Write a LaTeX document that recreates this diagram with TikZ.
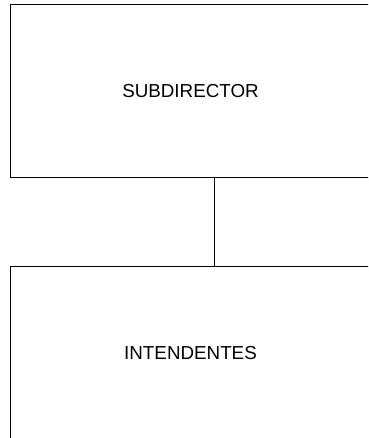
\documentclass[tikz,border=0pt]{standalone}
\usepackage{fontspec}
\setmainfont{Liberation Sans}
\begin{document}
\begin{tikzpicture}[x=1pt,y=-1pt,
  orgbox/.style={draw=black,line width=1pt,minimum width=361pt,minimum height=173.5pt,inner sep=0pt,font=\fontsize{18.8}{21}\selectfont},
  link/.style={draw=black,line width=1pt}]
\useasboundingbox (0,0) rectangle (368,438);
\clip (0,0) rectangle (368,438);
\node[orgbox] (sub) at (190.5,91.25) {SUBDIRECTOR};
\node[orgbox] (int) at (190.5,353.25) {INTENDENTES};
\draw[link] ([xshift=24pt]sub.south) -- ([xshift=24pt]int.north);
\end{tikzpicture}
\end{document}
